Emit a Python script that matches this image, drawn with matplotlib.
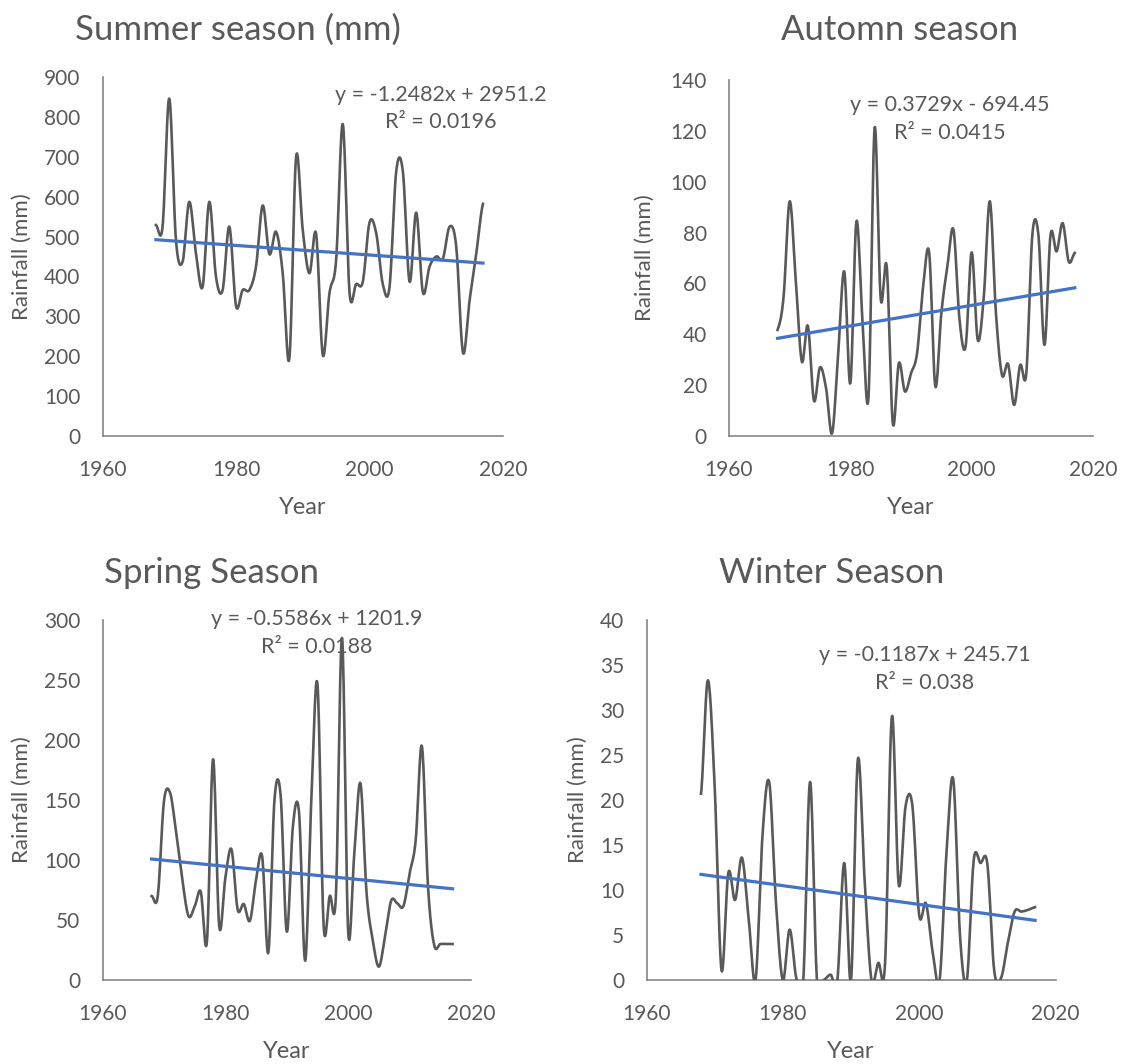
import numpy as np
import matplotlib
matplotlib.use('Agg')
import matplotlib.pyplot as plt

plt.rcParams['font.family'] = ['Lato', 'DejaVu Sans']

years = np.arange(1968, 2018)

summer = [529, 525, 846, 492, 437, 587, 458, 374, 587, 399,
          366, 525, 326, 366, 366, 425, 578, 456, 512, 408,
          195, 699, 516, 408, 507, 203, 358, 441, 782, 361,
          381, 387, 535, 509, 380, 374, 663, 663, 387, 560,
          360, 425, 450, 445, 525, 474, 209, 341, 458, 582]

autumn = [41.7, 54.8, 92.3, 61.4, 29.3, 43.3, 13.9, 27.0, 18.8, 1.1,
          32.6, 64.7, 20.7, 84.3, 45.7, 15.5, 121.1, 54.2, 66.6, 5.0,
          28.7, 17.5, 24.6, 32.6, 58.8, 72.0, 19.6, 48.3, 66.8, 81.1,
          45.7, 35.2, 72.2, 37.8, 54.8, 92.3, 48.3, 24.0, 28.3, 12.2,
          27.9, 24.6, 79.1, 79.1, 35.8, 79.1, 72.6, 83.7, 68.6, 72.0]

spring = [70, 70, 148.6, 156.1, 122.2, 83.3, 53.3, 61.1, 73.6, 31.9,
          183.9, 45, 85, 108.9, 58.9, 63.3, 49.4, 83.3, 102.8, 22.8,
          150, 154.2, 40.3, 128, 139.7, 16.1, 150, 246.7, 45.8, 70,
          70, 285, 40.3, 105.6, 163.9, 72.2, 33.3, 11.1, 36.1, 66.1,
          63.9, 61.7, 88.9, 116.7, 195, 77.8, 29.2, 30, 30, 30]

winter = [20.7, 33.3, 21.5, 1.1, 11.9, 8.9, 13.6, 6.7, 0, 15.9,
          22.0, 8.5, 0, 5.6, 0.1, 0, 22.0, 0, 0, 0.6,
          0, 13.0, 0, 24.5, 11.1, 0, 1.9, 1.9, 29.3, 10.6,
          19.3, 19.4, 7.2, 8.5, 3.0, 0, 14.1, 22.3, 4.8, 0,
          13.3, 13.0, 12.9, 1.1, 0.2, 4.1, 7.6, 7.6, 7.8, 8.1]

titles = ['Summer season (mm)', 'Automn season', 'Spring Season', 'Winter Season']
equations = [('y = -1.2482x + 2951.2', 'R² = 0.0196'),
             ('y = 0.3729x - 694.45', 'R² = 0.0415'),
             ('y = -0.5586x + 1201.9', 'R² = 0.0188'),
             ('y = -0.1187x + 245.71', 'R² = 0.038')]
y_max = [900, 140, 300, 40]
y_step = [100, 20, 50, 5]
x_ticks = [1960, 1980, 2000, 2020]

TXT = '#595959'


def smooth(x, y, n=16):
    # catmull-rom, roughly what excel does for "smoothed line"
    x = np.asarray(x, float)
    y = np.asarray(y, float)
    px = np.concatenate([[2 * x[0] - x[1]], x, [2 * x[-1] - x[-2]]])
    py = np.concatenate([[y[0]], y, [y[-1]]])
    xs, ys = [], []
    t = np.linspace(0, 1, n, endpoint=False)
    for i in range(1, len(px) - 2):
        p0, p1, p2, p3 = py[i - 1], py[i], py[i + 1], py[i + 2]
        ys.append(0.5 * (2 * p1 + (-p0 + p2) * t + (2 * p0 - 5 * p1 + 4 * p2 - p3) * t ** 2
                         + (-p0 + 3 * p1 - 3 * p2 + p3) * t ** 3))
        xs.append(px[i] + (px[i + 1] - px[i]) * t)
    xs.append([x[-1]])
    ys.append([y[-1]])
    return np.concatenate(xs), np.concatenate(ys)


fig = plt.figure(figsize=(11.25, 10.64), dpi=100)

# axes boxes in pixels: left, right, bottom, top
boxes = [(102.5, 503, 436, 77), (729, 1093, 436, 80),
         (102.5, 471, 980, 620), (646.5, 1055.5, 980, 620)]
ylab_x = [22, 645, 22, 578]          # pixel centre of "Rainfall (mm)"
xlab_y = [507, 507, 1051, 1051]      # pixel centre of "Year"
title_pos = [(238, 30), (900, 30), (212, 573), (832, 573)]
eq_pos = [(441, 95, 122), (950, 105, 133), (317, 619, 647), (925, 655, 683)]

W, H = 1125, 1064
for k, vals in enumerate([summer, autumn, spring, winter]):
    l, r, b, t = boxes[k]
    ax = fig.add_axes([l / W, 1 - b / H, (r - l) / W, (b - t) / H])

    def ax_x(px):
        return (px - l) / (r - l)

    def ax_y(py):
        return (b - py) / (b - t)

    sx, sy = smooth(years, vals)
    ax.plot(sx, sy, color='#595959', lw=1.9, zorder=3)

    coef = np.polyfit(years, vals, 1)
    ax.plot(years[[0, -1]], np.polyval(coef, years[[0, -1]]), color='#4472C4', lw=2.3, zorder=4)

    ax.set_xlim(1960, 2020)
    ax.set_ylim(0, y_max[k])
    ax.set_xticks(x_ticks)
    ax.set_yticks(np.arange(0, y_max[k] + 0.1, y_step[k]))
    ax.tick_params(length=0, labelsize=15, colors=TXT)
    ax.tick_params(axis='x', pad=17)
    ax.tick_params(axis='y', pad=16)
    for s in ['top', 'right']:
        ax.spines[s].set_visible(False)
    for s in ['left', 'bottom']:
        ax.spines[s].set_color('#868686')
        ax.spines[s].set_linewidth(1.2)

    ax.set_ylabel('Rainfall (mm)', fontsize=16, color=TXT, va='center')
    ax.yaxis.set_label_coords(ax_x(ylab_x[k]), 0.5)
    ax.set_xlabel('Year', fontsize=17, color=TXT, va='center')
    ax.xaxis.set_label_coords(0.5, ax_y(xlab_y[k]))

    tx, ty = title_pos[k]
    ax.text(ax_x(tx), ax_y(ty), titles[k], transform=ax.transAxes, ha='center', va='center',
            fontsize=25, color=TXT)
    ex, e1, e2 = eq_pos[k]
    ax.text(ax_x(ex), ax_y(e1), equations[k][0], transform=ax.transAxes, ha='center', va='center',
            fontsize=15.5, color=TXT)
    ax.text(ax_x(ex), ax_y(e2), equations[k][1], transform=ax.transAxes, ha='center', va='center',
            fontsize=15.5, color=TXT)

fig.savefig('out.png', dpi=100)
